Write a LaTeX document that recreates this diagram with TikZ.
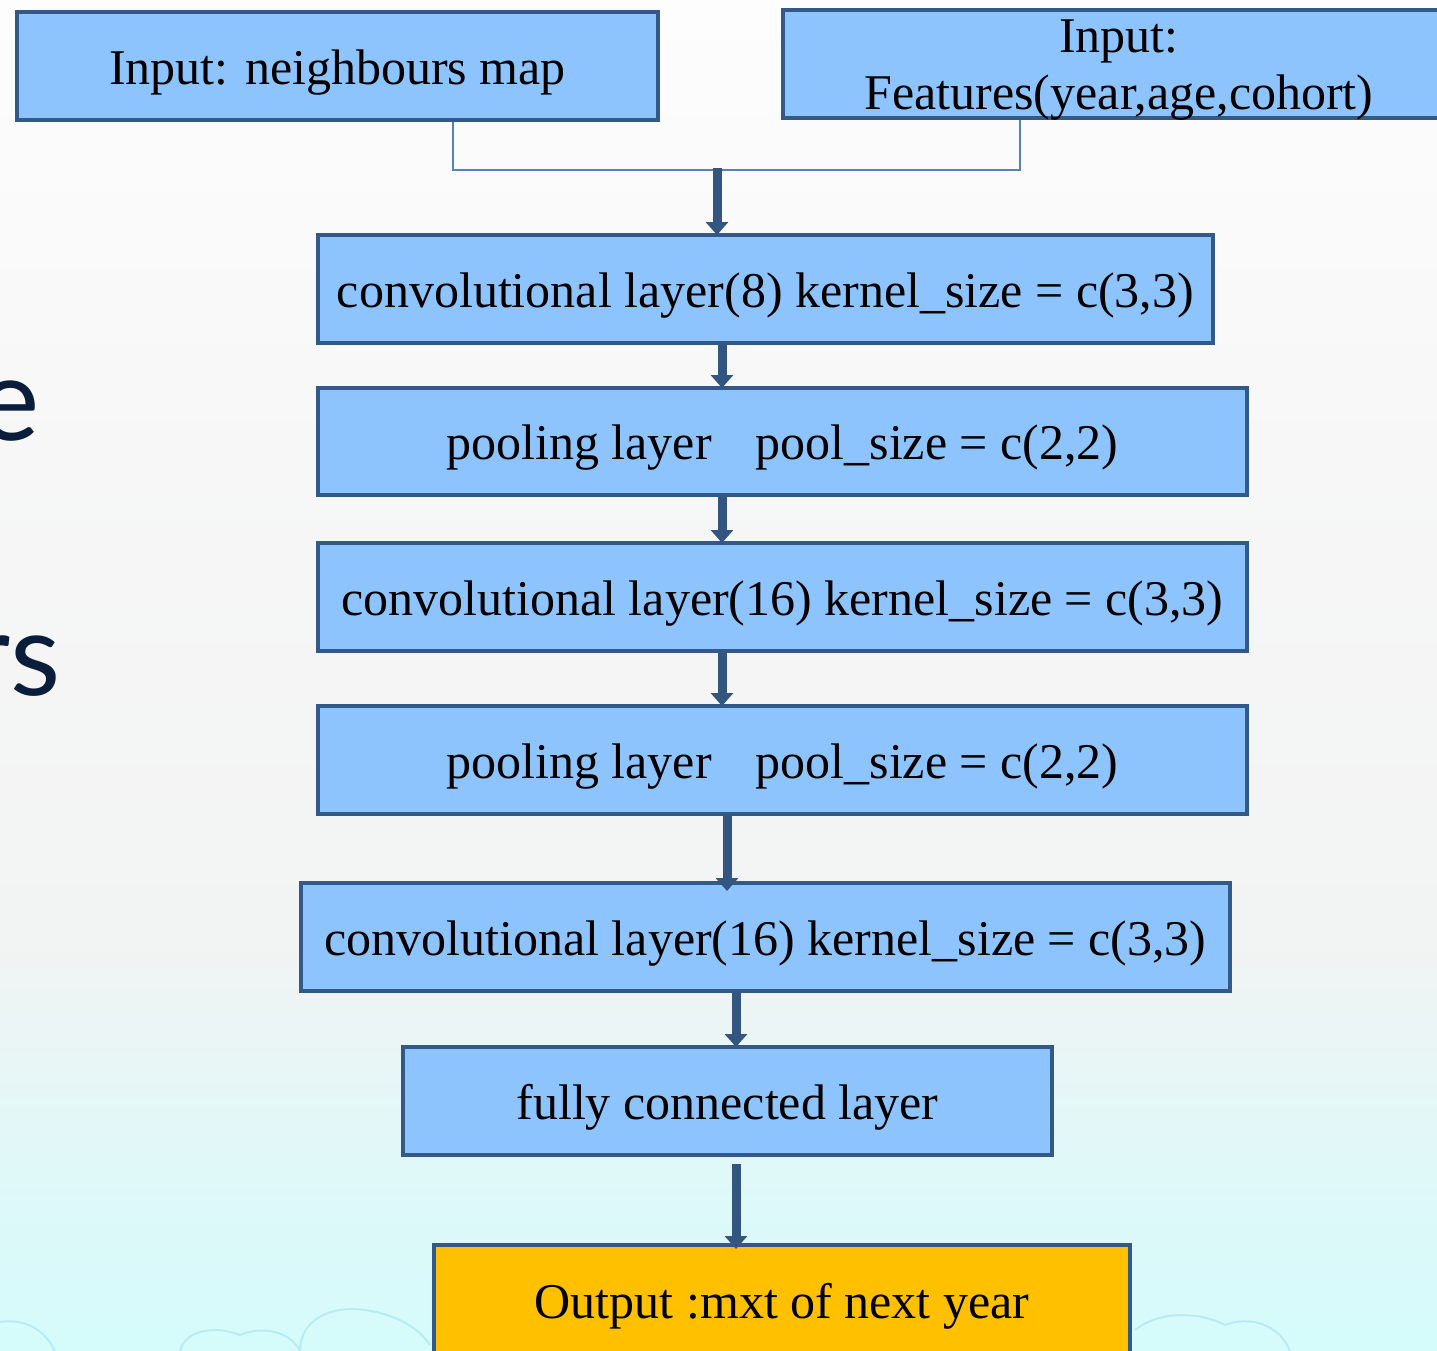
\documentclass[tikz,border=0pt]{standalone}
\usepackage{fontspec}
\setmainfont{Liberation Serif}
\newfontfamily\slidesans{Lato}
\usetikzlibrary{arrows.meta}

\definecolor{boxline}{RGB}{51,89,134}
\definecolor{boxfill}{RGB}{142,196,253}
\definecolor{outfill}{RGB}{255,192,0}
\definecolor{joinline}{RGB}{84,130,186}
\definecolor{arrowcol}{RGB}{50,86,128}
\definecolor{bgtop}{RGB}{253,253,253}
\definecolor{bguppergrey}{RGB}{247,247,247}
\definecolor{bgmid}{RGB}{242,243,243}
\definecolor{bgcyan}{RGB}{224,248,248}
\definecolor{bgbot}{RGB}{213,251,251}
\definecolor{cloudline}{RGB}{178,232,246}
\definecolor{slidetext}{RGB}{10,30,60}

% slide background: white at the top, light grey, then pale cyan at the foot
\pgfdeclareverticalshading{slidebg}{100bp}{%
  color(0bp)=(bgbot); color(25bp)=(bgbot); color(32bp)=(bgcyan);
  color(40bp)=(bgmid); color(58bp)=(bguppergrey); color(75bp)=(bgtop); color(100bp)=(bgtop)}

\tikzset{
  boxfont/.style={font=\fontsize{25}{28.5}\selectfont, text=black},
  layerbox/.style={boxfont, draw=boxline, fill=boxfill, line width=2pt, inner sep=0pt,
    text height=18pt, text depth=0pt},
  outbox/.style={layerbox, fill=outfill},
  joinpath/.style={draw=joinline, line width=1pt},
  bigarrow/.style={draw=arrowcol, line width=4.5pt,
    -{Triangle[width=11pt,length=6.5pt]}, shorten >=-1pt},
  sidetext/.style={font=\slidesans\fontsize{58}{60}\selectfont, text=slidetext, inner sep=0pt},
  cloud/.style={draw=cloudline, line width=1pt, opacity=0.8}
}

\begin{document}
\begin{tikzpicture}[x=0.5pt,y=-0.5pt]
  \useasboundingbox (0,0) rectangle (1437,1351);
  \clip (0,0) rectangle (1437,1351);
  \shade[shading=slidebg] (0,0) rectangle (1437,1351);

  % faint cloud outlines along the foot of the slide
  \draw[cloud] (0,1322) .. controls (25,1318) and (45,1330) .. (55,1351);
  \draw[cloud] (180,1351) .. controls (185,1330) and (215,1325) .. (240,1335)
                          .. controls (260,1326) and (290,1330) .. (300,1351);
  \draw[cloud] (300,1351) .. controls (300,1320) and (330,1305) .. (365,1310)
                          .. controls (400,1315) and (420,1330) .. (430,1345);
  \draw[cloud] (1135,1330) .. controls (1160,1310) and (1200,1312) .. (1225,1325)
                           .. controls (1250,1315) and (1280,1325) .. (1290,1351);

  % fragments of slide text at the left edge
  \node[sidetext, anchor=base east] (sideA) at (40,440) {e};
  \node[sidetext, anchor=base east] (sideB) at (61,695) {rs};

  % inputs
  \node[layerbox, minimum width=641*0.5pt, minimum height=108*0.5pt] (in1) at (337.5,66) {Input: neighbours map};
  \node[layerbox, minimum width=662*0.5pt, minimum height=108*0.5pt] (in2) at (1114,64) {};
  \node[boxfont, inner sep=0pt, align=center, anchor=north] (in2txt) at (1119,19)
    {Input:\\Features(year,age,cohort)};

  % network layers
  \node[layerbox, minimum width=895*0.5pt, minimum height=108*0.5pt] (c1) at (765.5,289)
    {convolutional layer(8) kernel\_size = c(3,3)};
  \node[layerbox, minimum width=929*0.5pt, minimum height=107*0.5pt] (p1) at (782.5,441.5)
    {pooling layer\hspace{22pt}pool\_size = c(2,2)};
  \node[layerbox, minimum width=929*0.5pt, minimum height=108*0.5pt] (c2) at (782.5,597)
    {convolutional layer(16) kernel\_size = c(3,3)};
  \node[layerbox, minimum width=929*0.5pt, minimum height=108*0.5pt] (p2) at (782.5,760)
    {pooling layer\hspace{22pt}pool\_size = c(2,2)};
  \node[layerbox, minimum width=929*0.5pt, minimum height=108*0.5pt] (c3) at (765.5,937)
    {convolutional layer(16) kernel\_size = c(3,3)};
  \node[layerbox, minimum width=649*0.5pt, minimum height=108*0.5pt] (fc) at (727.5,1101)
    {fully connected layer};
  \node[outbox, minimum width=696*0.5pt, minimum height=110*0.5pt] (out) at (782,1300)
    {Output :mxt of next year};

  % joining the two inputs
  \coordinate (jl) at (453,170);
  \coordinate (jr) at (1020,170);
  \coordinate (jm) at (717,168);
  \draw[joinpath] (in1.south -| jl) -- (jl) -- (jr) -- (in2.south -| jr);

  % arrow columns
  \coordinate (colA) at (722,0);
  \coordinate (colB) at (727,0);
  \coordinate (colC) at (736,0);

  \draw[bigarrow] (jm) -- (c1.north -| jm);
  \draw[bigarrow] (c1.south -| colA) -- (p1.north -| colA);
  \draw[bigarrow] (p1.south -| colA) -- (c2.north -| colA);
  \draw[bigarrow] (c2.south -| colA) -- (p2.north -| colA);
  \draw[bigarrow] (p2.south -| colB) -- ([yshift=-4pt]c3.north -| colB);
  \draw[bigarrow] (c3.south -| colC) -- (fc.north -| colC);
  \draw[bigarrow, shorten <=3.5pt] (fc.south -| colC) -- ([yshift=-2pt]out.north -| colC);
\end{tikzpicture}
\end{document}
